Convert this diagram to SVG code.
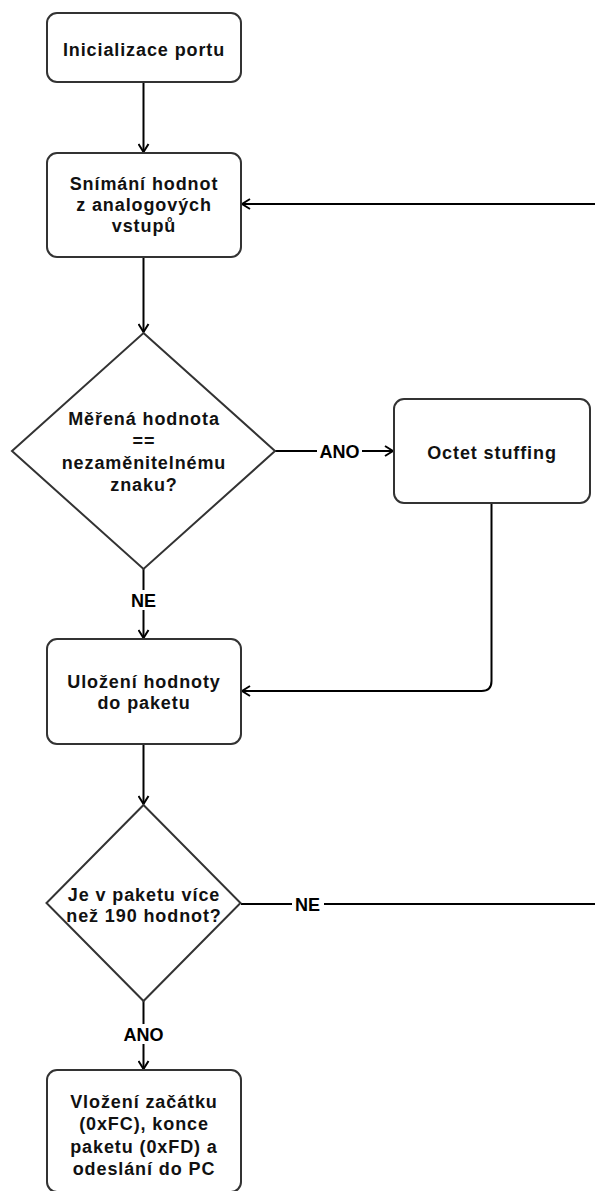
<svg xmlns="http://www.w3.org/2000/svg" width="595" height="1191" viewBox="0 0 595 1191">
<style>
.node{fill:#fff;stroke:#333;stroke-width:2}
.t{font-family:"Liberation Sans",Arial,sans-serif;font-size:18px;font-weight:bold;fill:#111;text-anchor:middle;letter-spacing:0.9px}
.lbl{font-family:"Liberation Sans",Arial,sans-serif;font-size:18px;font-weight:bold;fill:#000;text-anchor:middle}
.edge{fill:none;stroke:#000;stroke-width:2}
.bg{fill:#fff}
</style>
<defs>
<marker id="arr" viewBox="0 0 10 12" refX="9" refY="6" markerWidth="10" markerHeight="12" markerUnits="userSpaceOnUse" orient="auto">
<path d="M1,1 L9,6 L1,11" fill="none" stroke="#000" stroke-width="2"/>
</marker>
</defs>
<rect width="595" height="1191" fill="#fff"/>
<g id="connectors">
<path class="edge" d="M143.5,82 V152" marker-end="url(#arr)"/>
<path class="edge" d="M143.5,257 V332" marker-end="url(#arr)"/>
<path class="edge" d="M143.5,569 V638" marker-end="url(#arr)"/>
<path class="edge" d="M275,451 H393" marker-end="url(#arr)"/>
<path class="edge" d="M491.5,503 V681 Q491.5,691 481.5,691 H242" marker-end="url(#arr)"/>
<path class="edge" d="M143.5,744 V804" marker-end="url(#arr)"/>
<path class="edge" d="M241,904 H600 V204 H242" marker-end="url(#arr)"/>
<path class="edge" d="M143.5,1001 V1069" marker-end="url(#arr)"/>
<rect class="bg" x="130" y="590" width="27" height="20"/>
<text class="lbl" x="143.5" y="606.5">NE</text>
<rect class="bg" x="317" y="441" width="45" height="20"/>
<text class="lbl" x="339.5" y="457.5">ANO</text>
<rect class="bg" x="292" y="894" width="32" height="20"/>
<text class="lbl" x="307.5" y="910.5">NE</text>
<rect class="bg" x="121" y="1024" width="45" height="20"/>
<text class="lbl" x="143.5" y="1040.5">ANO</text>
</g>
<g id="n1">
<rect class="node" x="47" y="13" width="194" height="69" rx="10"/>
<text class="t" x="144" y="55.5">Inicializace portu</text>
</g>
<g id="n2">
<rect class="node" x="47" y="153" width="194" height="104" rx="10"/>
<text class="t" x="144" y="189.5">Snímání hodnot</text>
<text class="t" x="144" y="210.5">z analogových</text>
<text class="t" x="144" y="232">vstupů</text>
</g>
<g id="d1">
<polygon class="node" points="143.5,333 275,451 143.5,569 12,451"/>
<text class="t" x="144" y="425">Měřená hodnota</text>
<text class="t" x="144" y="447">==</text>
<text class="t" x="144" y="469">nezaměnitelnému</text>
<text class="t" x="144" y="491">znaku?</text>
</g>
<g id="n3">
<rect class="node" x="394" y="399" width="196" height="104" rx="10"/>
<text class="t" x="492" y="459">Octet stuffing</text>
</g>
<g id="n4">
<rect class="node" x="47" y="639" width="194" height="105" rx="10"/>
<text class="t" x="144" y="687.5">Uložení hodnoty</text>
<text class="t" x="144" y="709">do paketu</text>
</g>
<g id="d2">
<polygon class="node" points="143.5,805 240.5,903 143.5,1001 46.5,903"/>
<text class="t" x="144" y="901">Je v paketu více</text>
<text class="t" x="144" y="922">než 190 hodnot?</text>
</g>
<g id="n5">
<rect class="node" x="47" y="1070" width="194" height="122" rx="10"/>
<text class="t" x="144" y="1107.5">Vložení začátku</text>
<text class="t" x="144" y="1130">(0xFC), konce</text>
<text class="t" x="144" y="1152.5">paketu (0xFD) a</text>
<text class="t" x="144" y="1175">odeslání do PC</text>
</g>
</svg>
